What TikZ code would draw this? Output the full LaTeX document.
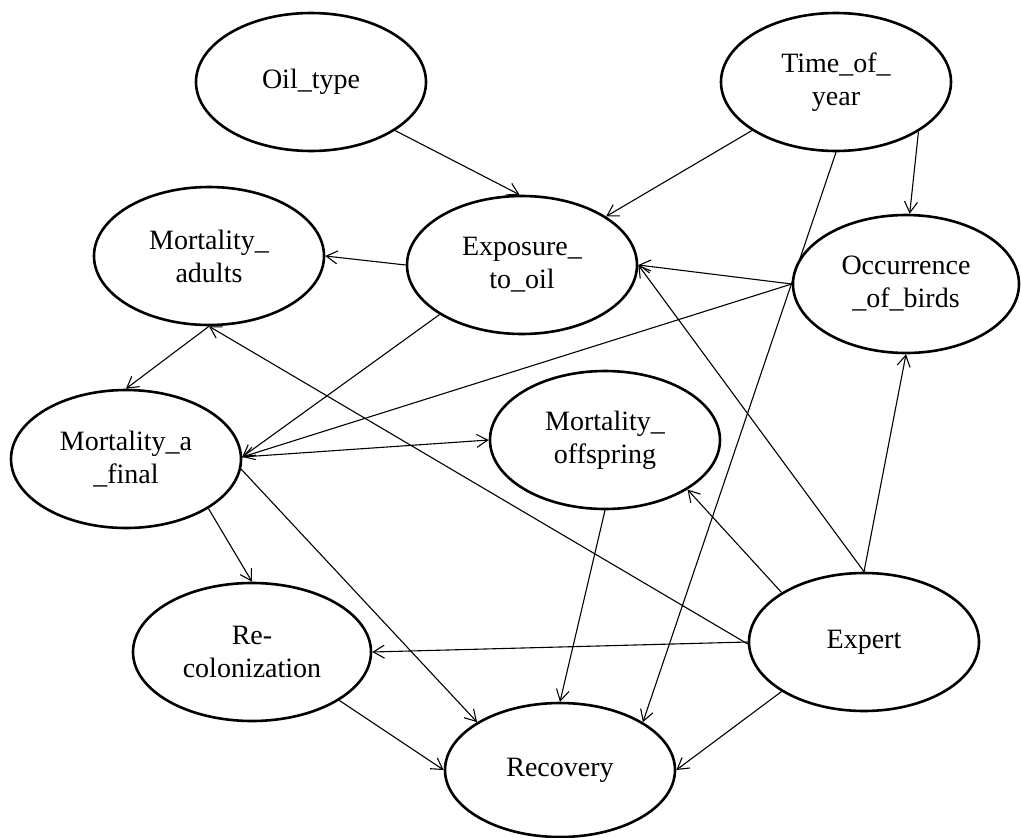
\documentclass[tikz,border=0pt]{standalone}
\usepackage{fontspec}
\setmainfont{Liberation Serif}
\usetikzlibrary{shapes.geometric,arrows.meta}
\begin{document}
\begin{tikzpicture}[x=1pt,y=-1pt,
  var/.style={ellipse,draw,line width=2.6pt,minimum width=230pt,minimum height=138pt,inner sep=0pt,align=center,font=\fontsize{28}{33}\selectfont},
  edge/.style={line width=1.1pt,-{Straight Barb[length=11pt,width=13pt,line width=1.1pt]}}]
\useasboundingbox (0,0) rectangle (1021,838);
\node[var] (oil) at (311,82) {Oil\_type};
\node[var] (time) at (836,82) {Time\_of\_\\year};
\node[var] (madult) at (209,256) {Mortality\_\\adults};
\node[var] (expo) at (522,265) {Exposure\_\\to\_oil};
\node[var,minimum width=226pt] (occ) at (906,284) {Occurrence\\\_of\_birds};
\node[var] (mafinal) at (126,459) {Mortality\_a\\\_final};
\node[var] (moff) at (605,440) {Mortality\_\\offspring};
\node[var,minimum width=238pt] (recol) at (252,652) {Re-\\colonization};
\node[var] (expert) at (864,642) {Expert};
\node[var,minimum height=134pt] (recov) at (560,770) {Recovery};
\draw[edge] (oil.-30.3) -- (expo.92);
\draw[edge] (time.210.6) -- (expo.30.6);
\draw[edge] (time.-31.2) -- (occ.87);
\draw[edge] (time.270) -- (recov.30.6);
\draw[edge] (expo.180) -- (madult.0);
\draw[edge] (occ.180) -- (expo.0);
\draw[edge] (occ.180) -- (mafinal.1);
\draw[edge] (expo.211.4) -- (mafinal.1);
\draw[edge] (madult.270) -- (mafinal.90);
\draw[edge] (mafinal.1) -- (moff.180);
\draw[edge] (mafinal.-31) -- (recol.90);
\draw[edge] (mafinal.-5) -- (recov.150.3);
\draw[edge] (expert.180) -- (recol.0);
\draw[edge] (recol.-29.9) -- (recov.180);
\draw[edge] (moff.270) -- (recov.90);
\draw[edge] (expert.149.7) -- (moff.-31);
\draw[edge] (expert.90) -- (expo.0);
\draw[edge] (expert.90) -- (occ.270);
\draw[edge] (expert.211.3) -- (recov.0);
\draw[edge] (expert.181) -- (madult.270);
\end{tikzpicture}
\end{document}
